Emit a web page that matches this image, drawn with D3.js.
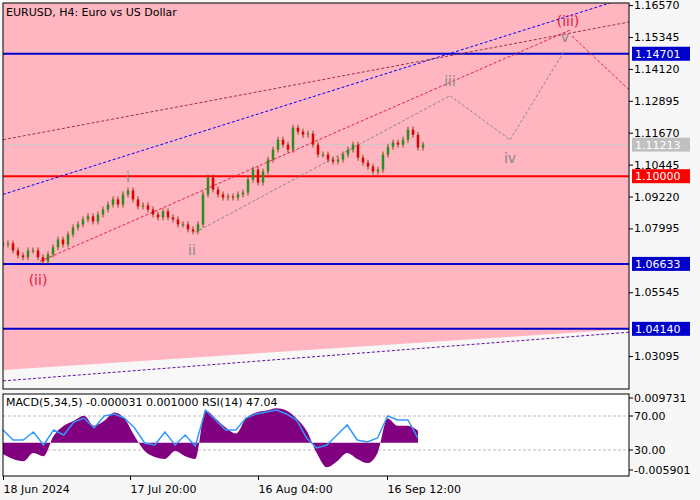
<!DOCTYPE html>
<html><head><meta charset="utf-8">
<script src="https://cdn.jsdelivr.net/npm/d3@7"></script>
<style>body{margin:0;background:#f7f7f7;font-family:"DejaVu Sans",sans-serif}</style>
</head><body><svg id="c" width="700" height="500"></svg>
<script>
// closes, one per 4h candle group
const closes = [1.0738,1.0742,1.0715,1.0696,1.0689,1.0715,1.0715,1.0689,1.0673,1.0700,1.0727,1.0757,1.0738,1.0777,1.0803,1.0815,1.0834,1.0846,1.0826,1.0853,1.0872,1.0891,1.0911,1.0891,1.0930,1.0945,1.0911,1.0884,1.0888,1.0872,1.0853,1.0842,1.0865,1.0842,1.0834,1.0815,1.0815,1.0796,1.0788,1.0815,1.0930,1.0995,1.0949,1.0930,1.0918,1.0922,1.0918,1.0930,1.0937,1.0987,1.1025,1.0976,1.1018,1.1064,1.1102,1.1140,1.1121,1.1102,1.1186,1.1171,1.1159,1.1163,1.1121,1.1083,1.1083,1.1064,1.1056,1.1064,1.1083,1.1102,1.1121,1.1071,1.1052,1.1037,1.1018,1.1025,1.1083,1.1113,1.1129,1.1121,1.1140,1.1179,1.1159,1.1110,1.1121];
const macdHist = [-0.0024,-0.0035,-0.0040,-0.0022,-0.0029,0.0015,0.0037,0.0048,0.0059,0.0037,0.0048,0.0066,0.0053,0.0015,-0.0018,-0.0031,-0.0035,-0.0018,-0.0029,-0.0035,0.0070,0.0053,0.0033,0.0020,0.0053,0.0066,0.0070,0.0075,0.0070,0.0053,0.0026,-0.0022,-0.0053,-0.0040,-0.0022,-0.0035,-0.0044,-0.0022,0.0053,0.0037,0.0037,0.0026];
const rsi = [53.5,41.8,41.8,51.2,35.9,53.5,47.6,62.9,67.6,55.9,70.0,72.4,67.6,55.9,38.2,35.9,51.2,35.9,47.6,34.7,77.0,65.3,53.5,53.5,67.6,72.4,74.7,77.0,72.4,65.3,44.1,32.4,35.9,47.6,59.4,41.8,39.4,44.1,70.0,65.3,65.3,44.1];
const priceTicks = [1.16570,1.15345,1.14120,1.12895,1.11670,1.10445,1.09220,1.07995,1.05545,1.03095];
const levels = [{p:1.14701,c:"#0000cc"},{p:1.10000,c:"#ff0000"},{p:1.06633,c:"#0000cc"},{p:1.04140,c:"#0000cc"}];
const lastPrice = 1.11213;
const dateTicks = [{i:0,t:"18 Jun 2024"},{i:25.4,t:"17 Jul 20:00"},{i:51,t:"16 Aug 04:00"},{i:76.8,t:"16 Sep 12:00"}];
// trend lines [index, price] pairs
const trendLines = [
  {a:[0,1.0930],b:[121.4,1.1665],c:"#0000ff",d:"3,2"},
  {a:[0,1.1140],b:[125.2,1.1592],c:"#a03040",d:"3,2"},
  {a:[7.4,1.0673],b:[113.4,1.1561],c:"#e0203a",d:"3,2"},
  {a:[0,1.0214],b:[125.2,1.0401],c:"#6010a0",d:"3,2"},
  {a:[38.4,1.0784],b:[89.4,1.1309],c:"#888888",d:"3,2"},
  {a:[89.4,1.1309],b:[101.4,1.1140],c:"#888888",d:"3,2"},
  {a:[101.4,1.1140],b:[112.4,1.1485],c:"#888888",d:"3,2"},
  {a:[113.8,1.1538],b:[125.2,1.1332],c:"#e0203a",d:"3,2"}
];
const waveLabels = [
  {i:25,p:1.0979,t:"i",c:"#888"},{i:37.8,p:1.0696,t:"ii",c:"#888"},{i:7,p:1.0581,t:"(ii)",c:"#e0203a"},
  {i:89.4,p:1.1347,t:"iii",c:"#888"},{i:101.4,p:1.1052,t:"iv",c:"#888"},{i:112.4,p:1.1515,t:"v",c:"#888"},{i:113,p:1.1577,t:"(iii)",c:"#e0203a"}
];
const pinkEdge = [[0,1.0256],[125.2,1.0413]];

const svg = d3.select("#c");
const L = 3, R = 629, T = 3, B = 389, sT = 394, sB = 476;
const x = d3.scaleLinear().domain([0,125.2]).range([L,R]);
const y = d3.scaleLinear().domain([1.0183,1.1665]).range([B,T]);

svg.append("defs").append("clipPath").attr("id","cl").append("rect")
  .attr("x",L).attr("y",T).attr("width",R-L).attr("height",B-T);
svg.append("rect").attr("x",L).attr("y",T).attr("width",R-L).attr("height",B-T).attr("fill","#f8f8f8");
const g = svg.append("g").attr("clip-path","url(#cl)");
g.append("path").attr("fill","#ffb6c1")
  .attr("d",d3.area().x(d=>x(d[0])).y0(T).y1(d=>y(d[1]))(pinkEdge));

g.append("line").attr("x1",L).attr("x2",R).attr("y1",y(lastPrice)).attr("y2",y(lastPrice)).attr("stroke","#c8c8c8");
levels.forEach(l=>g.append("line").attr("x1",L).attr("x2",R).attr("y1",y(l.p)).attr("y2",y(l.p)).attr("stroke",l.c).attr("stroke-width",2));
trendLines.forEach(t=>g.append("line").attr("x1",x(t.a[0])).attr("y1",y(t.a[1])).attr("x2",x(t.b[0])).attr("y2",y(t.b[1]))
  .attr("stroke",t.c).attr("stroke-dasharray",t.d));

closes.forEach((c,i)=>{
  const o = i ? closes[i-1] : c;
  const col = c>=o ? "#2e8b22" : "#e00000";
  g.append("line").attr("x1",x(i)).attr("x2",x(i)).attr("y1",y(Math.max(o,c))-3).attr("y2",y(Math.min(o,c))+3).attr("stroke","#8b4513");
  g.append("rect").attr("x",x(i)-1.25).attr("width",2.5).attr("y",y(Math.max(o,c))).attr("height",Math.max(1,y(Math.min(o,c))-y(Math.max(o,c)))).attr("fill",col);
});

waveLabels.forEach(w=>g.append("text").attr("x",x(w.i)).attr("y",y(w.p)).attr("text-anchor","middle")
  .attr("fill",w.c).attr("font-size",14).text(w.t));
g.append("text").attr("x",6).attr("y",16).attr("font-size",11).text("EURUSD, H4:  Euro vs US Dollar");
svg.append("rect").attr("x",L).attr("y",T).attr("width",R-L).attr("height",B-T).attr("fill","none").attr("stroke","#000");

// right axis
const ax = svg.append("g").attr("transform",`translate(${R},0)`)
  .call(d3.axisRight(y).tickValues(priceTicks).tickFormat(d3.format(".5f")).tickSize(4));
ax.select(".domain").remove();
ax.selectAll("text").attr("font-size",11).attr("font-family","DejaVu Sans").attr("x",5);
[...levels.map(l=>({p:l.p,c:l.c})),{p:lastPrice,c:"#c0c0c0"}].forEach(l=>{
  svg.append("rect").attr("x",632).attr("y",y(l.p)-7).attr("width",58).attr("height",14).attr("fill",l.c);
  svg.append("text").attr("x",635).attr("y",y(l.p)+4).attr("fill","#fff").attr("font-size",11).text(d3.format(".5f")(l.p));
});

// sub window
const xs = d3.scaleLinear().domain([0,41]).range([L,x(83)]);
const ym = d3.scaleLinear().domain([-0.005901,0.009731]).range([sB-6,sT+4]);
const yr = d3.scaleLinear().domain([30,70]).range([450,416]);
svg.append("rect").attr("x",L).attr("y",sT).attr("width",R-L).attr("height",sB-sT).attr("fill","#fff");
[30,70].forEach(v=>svg.append("line").attr("x1",L).attr("x2",R).attr("y1",yr(v)).attr("y2",yr(v)).attr("stroke","#bbb").attr("stroke-dasharray","3,2"));
svg.append("path").attr("fill","#800080")
  .attr("d",d3.area().x((d,i)=>xs(i)).y0(ym(0)).y1(d=>ym(d)).curve(d3.curveMonotoneX)(macdHist));
svg.append("path").attr("fill","none").attr("stroke","#3399ff").attr("stroke-width",1.5)
  .attr("d",d3.line().x((d,i)=>xs(i)).y(d=>yr(d))(rsi));
svg.append("text").attr("x",6).attr("y",406).attr("font-size",11).text("MACD(5,34,5) -0.000031 0.001000 RSI(14) 47.04");
svg.append("rect").attr("x",L).attr("y",sT).attr("width",R-L).attr("height",sB-sT).attr("fill","none").attr("stroke","#000");
[{v:"0.009731",y:ym(0.009731)},{v:"70.00",y:yr(70)},{v:"30.00",y:yr(30)},{v:"-0.005901",y:ym(-0.005901)}].forEach(t=>{
  svg.append("line").attr("x1",R).attr("x2",R+4).attr("y1",t.y).attr("y2",t.y).attr("stroke","#000");
  svg.append("text").attr("x",R+5).attr("y",t.y+4).attr("font-size",11).text(t.v);
});

// time axis
const tx = svg.append("g").attr("transform",`translate(0,${sB})`)
  .call(d3.axisBottom(x).tickValues(dateTicks.map(d=>d.i)).tickFormat((d,i)=>dateTicks[i].t).tickSize(4));
tx.select(".domain").remove();
tx.selectAll("text").attr("text-anchor","start").attr("font-size",11).attr("font-family","DejaVu Sans").attr("dy","0.9em");
</script></body></html>
